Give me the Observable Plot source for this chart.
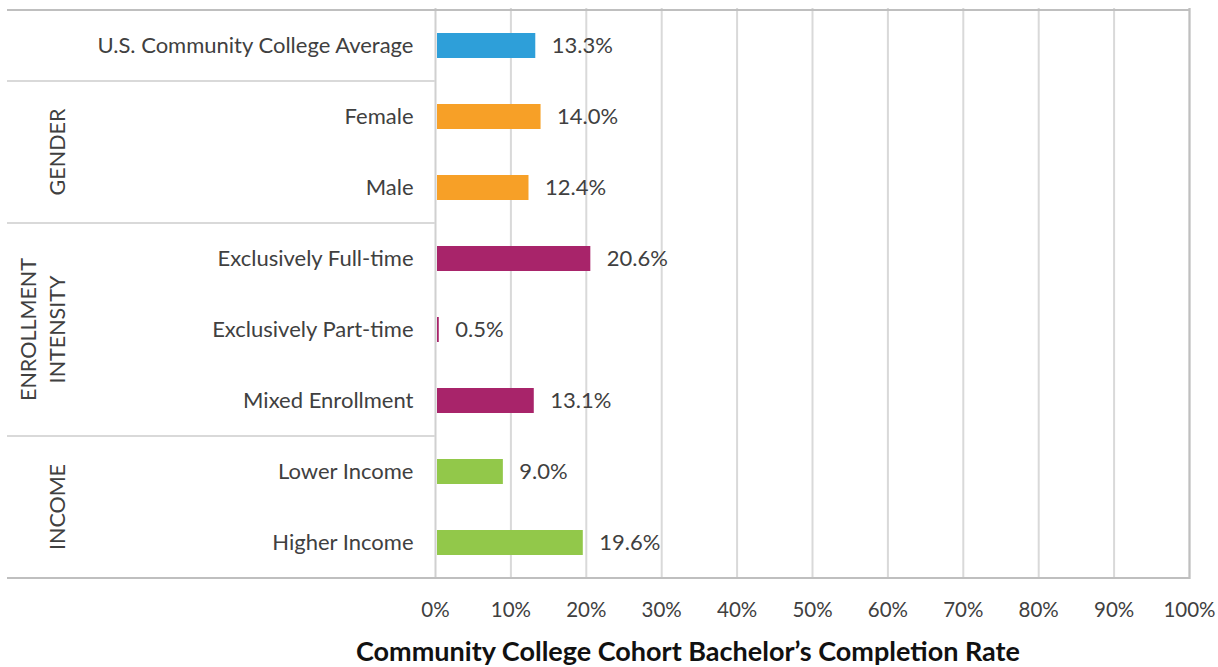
<!DOCTYPE html>
<html><head><meta charset="utf-8">
<script src="https://cdn.jsdelivr.net/npm/d3@7"></script>
<script src="https://cdn.jsdelivr.net/npm/@observablehq/plot@0.6"></script>
<style>
body{margin:0;background:#fff;}
#chart svg{font-family:Lato,"Open Sans",sans-serif;overflow:visible;}
</style>
</head><body><div id="chart"></div>
<script>
const categories = ["U.S. Community College Average","Female","Male","Exclusively Full-time","Exclusively Part-time","Mixed Enrollment","Lower Income","Higher Income"];
const values = [0.133, 0.140, 0.124, 0.206, 0.005, 0.131, 0.090, 0.196];
const groupOf = ["avg","gender","gender","enroll","enroll","enroll","income","income"];
const groupNames = ["avg","gender","enroll","income"];
const groupLabels = [[], ["GENDER"], ["ENROLLMENT","INTENSITY"], ["INCOME"]];
const groupColors = ["#2e9fd9","#f7a027","#a8246a","#92c84a"];
const xTicks = [0,0.1,0.2,0.3,0.4,0.5,0.6,0.7,0.8,0.9,1.0];
const axisTitle = "Community College Cohort Bachelor\u2019s Completion Rate";

const data = categories.map((c,i)=>({category:c, value:values[i], group:groupOf[i]}));
const pct = d3.format(".1%");

const W = 1218, H = 667;
const mLeft = 435, mRight = 29, mTop = 8, mBottom = 88;
const tableLeft = 7;
const textColor = "#404040";

const plot = Plot.plot({
  width: W, height: H,
  marginLeft: mLeft, marginRight: mRight, marginTop: mTop, marginBottom: mBottom,
  x: {domain:[0,1], ticks: xTicks, tickFormat: d3.format(".0%")},
  y: {domain: categories, paddingInner: 0.65, paddingOuter: 0.325},
  color: {domain: groupNames, range: groupColors},
  style: {fontSize: "22px", color: textColor},
  marks: [
    Plot.gridX(xTicks.slice(1), {stroke:"#d9d9d9", strokeOpacity:1, strokeWidth:2}),
    Plot.ruleX([0], {stroke:"#d0d0d0", strokeWidth:2}),
    Plot.ruleX([1], {stroke:"#bfbfbf", strokeWidth:2}),
    Plot.barX(data, {x1: 0, x2: "value", y: "category", fill: "group", insetLeft: 2}),
    Plot.text(data, {x: "value", y: "category", text: d => pct(d.value), textAnchor: "start", dx: 16, fill: textColor, fontSize: 22}),
    Plot.axisX({ticks: xTicks, tickFormat: d3.format(".0%"), tickSize: 0, tickPadding: 23, fontSize: 20.5, fill: textColor, label: null}),
    Plot.axisY({tickSize: 0, tickPadding: 22, fontSize: 22, fill: textColor, label: null})
  ]
});

const svg = d3.select(plot);
const ys = plot.scale("y");
const xs = plot.scale("x");
const bw = ys.bandwidth, step = ys.step;
const bandTop = (c) => ys.apply(c) - (step - bw)/2;
const bandBottom = (c) => ys.apply(c) + bw + (step - bw)/2;
const xRight = xs.apply(1), xZero = xs.apply(0);

const g = svg.append("g");
const firstY = bandTop(categories[0]);
const lastY = bandBottom(categories[categories.length-1]);
g.append("line").attr("x1", tableLeft).attr("x2", xRight+1).attr("y1", firstY).attr("y2", firstY).attr("stroke","#bfbfbf").attr("stroke-width",2);
g.append("line").attr("x1", tableLeft).attr("x2", xRight+1).attr("y1", lastY).attr("y2", lastY).attr("stroke","#bfbfbf").attr("stroke-width",2);
groupNames.forEach((gn, gi) => {
  const members = categories.filter((c,i)=>groupOf[i]===gn);
  const y0 = bandTop(members[0]), y1 = bandBottom(members[members.length-1]);
  if (gi > 0) {
    g.append("line").attr("x1", tableLeft).attr("x2", xZero).attr("y1", y0).attr("y2", y0).attr("stroke","#d9d9d9").attr("stroke-width",2);
  }
  const lines = groupLabels[gi];
  const cy = (y0+y1)/2;
  const lineGap = 29, lastX = 57;
  lines.forEach((t, li) => {
    const x = lastX - (lines.length-1-li)*lineGap;
    g.append("text").attr("transform", `translate(${x},${cy}) rotate(-90)`)
      .attr("text-anchor","middle").attr("dominant-baseline","central")
      .attr("fill", textColor).attr("font-size", 21.5).text(t);
  });
});
g.append("text").attr("x", 688).attr("y", H - 6)
  .attr("text-anchor","middle").attr("font-size", 27).attr("font-weight","bold")
  .attr("fill","#111").text(axisTitle);

document.getElementById("chart").appendChild(plot);
</script>
</body></html>
